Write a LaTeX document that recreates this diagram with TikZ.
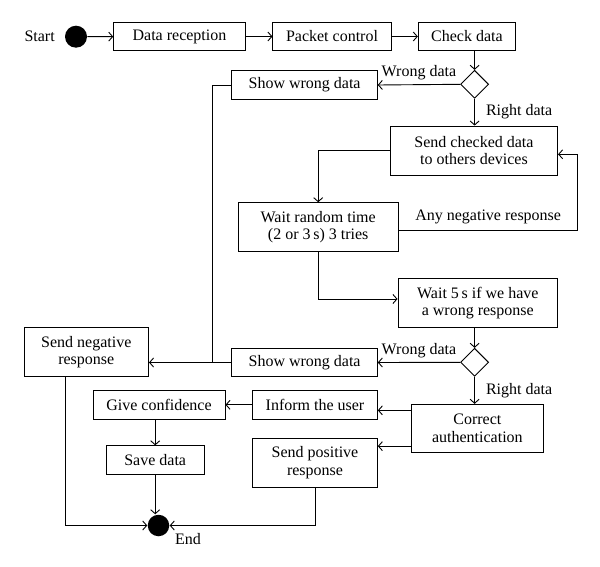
\documentclass[tikz,border=0pt]{standalone}
\usepackage{fontspec}
\setmainfont{Liberation Serif}
\usetikzlibrary{arrows.meta,shapes.geometric,positioning}
\begin{document}
\begin{tikzpicture}[x=1pt,y=-1pt,line width=0.9pt,
  every node/.style = {font=\fontsize{16}{17.5}\selectfont, align=center},
  box/.style = {draw, minimum height=28.4pt},
  tall/.style = {draw, minimum height=49pt},
  dot/.style = {circle, fill, inner sep=0pt, minimum size=22pt},
  cond/.style = {diamond, draw, inner sep=0pt, minimum width=28pt, minimum height=28pt},
  lab/.style = {inner sep=4pt},
  arr/.style = {-{Straight Barb[length=4pt,width=9pt]}}]
\useasboundingbox (0,0) rectangle (600,567);
\node [dot] (s) at (76,36.7) {};
\node [left=6pt of s] (st) {Start};
\node [box, minimum width=131.6pt] (a) at (179.5,36.5) {Data reception};
\node [box, minimum width=118.2pt] (b) at (332,36.5) {Packet control};
\node [box, minimum width=97.2pt] (c) at (466.9,36.5) {Check data};
\node [cond] (d1) at (474.6,84.3) {};
\node [box, minimum width=145.4pt] (w1) at (304.6,85) {Show wrong data};
\node [tall, minimum width=167.2pt] (s1) at (474,150.5) {Send checked data\\to others devices};
\node [tall, minimum width=159.6pt] (r) at (318.2,227.2) {Wait random time\\(2 or 3\,s) 3 tries};
\node [tall, minimum width=159.6pt] (f) at (477.8,303.3) {Wait 5\,s if we have\\a wrong response};
\node [cond] (d2) at (474.6,362.3) {};
\node [box, minimum width=145.4pt] (w2) at (304.6,362.5) {Show wrong data};
\node [tall, minimum width=124.4pt] (n) at (86.3,352.3) {Send negative\\response};
\node [tall, minimum width=132pt, minimum height=48.4pt] (ca) at (477.4,428.5) {Correct\\authentication};
\node [box, minimum width=124.7pt] (iu) at (315,404.8) {Inform the user};
\node [box, minimum width=132pt] (gc) at (159,404.8) {Give confidence};
\node [box, minimum width=97.6pt] (sd) at (155.2,460) {Save data};
\node [tall, minimum width=124.7pt] (sp) at (315,462.8) {Send positive\\response};
\node [dot, minimum size=21.5pt] (e) at (158.5,525.5) {};
\node [anchor=west] (el) at ([xshift=5pt,yshift=-6pt]e.south east) {End};
\coordinate (l) at (212.4,362.5);
\coordinate (k) at (577.9,230.7);
\draw [arr] (s) -- (a);
\draw [arr] (a) -- (b);
\draw [arr] (b) -- (c);
\draw [arr] (c.south -| d1) -- (d1.north);
\draw [arr] (d1.west) -- node [lab, above] {Wrong data} (w1.east);
\draw [arr] (d1.south) -- node [lab, right=7pt] {Right data} (d1.south |- s1.north);
\draw [arr] (s1.west) -| (r.north);
\draw [arr] ([yshift=-3.5pt]r.east) -- node [lab, above=2.5pt] {Any negative response} (k) |- ([yshift=-3.8pt]s1.east);
\draw [arr] (r.south) |- ([yshift=4.3pt]f.west);
\draw [arr] (f.south -| d2) -- (d2.north);
\draw [arr] (d2.west) -- node [lab, above] {Wrong data} (w2.east);
\draw (w1.west) -| (l);
\draw [arr] (w2.west) -- (n.east |- w2.west);
\draw [arr] (d2.south) -- node [lab, right=7pt] {Right data} (d2.south |- ca.north);
\draw [arr] ([yshift=-6.5pt]ca.north west) -- ([yshift=-6.5pt]ca.north west -| iu.east);
\draw [arr] ([yshift=7pt]ca.south west) -- ([yshift=7pt]ca.south west -| sp.east);
\draw [arr] (iu) -- (gc);
\draw [arr] (gc.south -| sd) -- (sd.north);
\draw [arr] (sd.south) -- (sd.south |- e.north);
\draw [arr] ([xshift=-21.3pt]n.south) |- (e);
\draw [arr] (sp.south) |- (e);
\end{tikzpicture}
\end{document}
